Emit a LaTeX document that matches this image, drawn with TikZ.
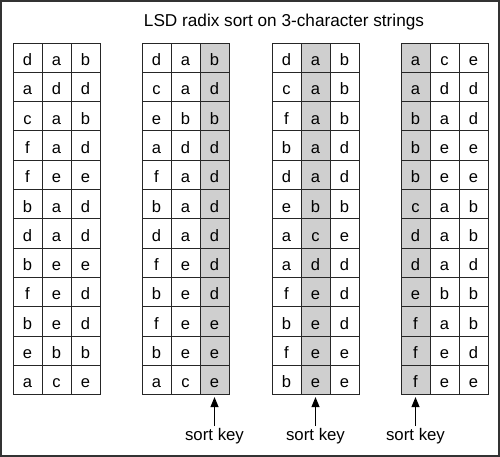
\documentclass[tikz,border=0pt]{standalone}
\usepackage{fontspec}
\setmainfont{Liberation Sans}
\usetikzlibrary{arrows.meta}
\newcommand\mktable[4]{%
  \foreach \row [count=\r] in {#4} {
    \foreach \ch [count=\c] in \row {
      \ifnum\c=#3 \def\sty{keycell}\else\def\sty{cell}\fi
      \node[\sty] (t#1r\r c\c) at ({#2+(\c-0.5)*29},{43+(\r-0.5)*29.3}) {\ch};
    }
  }
}
\begin{document}
\begin{tikzpicture}[x=0.75pt,y=-0.75pt,
  cell/.style={draw=black!85,line width=0.75pt,minimum width=21.75pt,minimum height=21.975pt,
    inner sep=0pt,text height=11.8pt,text depth=0pt,font=\fontsize{12.4}{14}\selectfont},
  keycell/.style={cell,fill=black!19},
  keylabel/.style={anchor=base,inner sep=1pt,font=\fontsize{12.6}{14}\selectfont},
  keyarrow/.style={line width=0.8pt,-{Triangle[width=6pt,length=7.5pt]},shorten >=1.5pt},
  titlestyle/.style={anchor=base,inner sep=0pt,font=\fontsize{12.9}{14}\selectfont},
  framestyle/.style={draw=black!80,line width=0.8pt}]
\useasboundingbox (0,0) rectangle (500,457);
\draw[framestyle] (1,1) rectangle (499,456);
\node[titlestyle] (title) at (284,26.5) {LSD radix sort on 3-character strings};
\mktable{1}{13}{0}{{d,a,b},{a,d,d},{c,a,b},{f,a,d},{f,e,e},{b,a,d},{d,a,d},{b,e,e},{f,e,d},{b,e,d},{e,b,b},{a,c,e}}
\mktable{2}{142}{3}{{d,a,b},{c,a,d},{e,b,b},{a,d,d},{f,a,d},{b,a,d},{d,a,d},{f,e,d},{b,e,d},{f,e,e},{b,e,e},{a,c,e}}
\mktable{3}{272}{2}{{d,a,b},{c,a,b},{f,a,b},{b,a,d},{d,a,d},{e,b,b},{a,c,e},{a,d,d},{f,e,d},{b,e,d},{f,e,e},{b,e,e}}
\mktable{4}{401}{1}{{a,c,e},{a,d,d},{b,a,d},{b,e,e},{b,e,e},{c,a,b},{d,a,b},{d,a,d},{e,b,b},{f,a,b},{f,e,d},{f,e,e}}
\node[keylabel] (k2) at (214.5,440) {sort key};
\node[keylabel] (k3) at (315.5,440) {sort key};
\node[keylabel] (k4) at (415.5,440) {sort key};
\draw[keyarrow] (k2.north) -- (t2r12c3.south);
\draw[keyarrow] (k3.north) -- (t3r12c2.south);
\draw[keyarrow] (k4.north) -- (t4r12c1.south);
\end{tikzpicture}
\end{document}
